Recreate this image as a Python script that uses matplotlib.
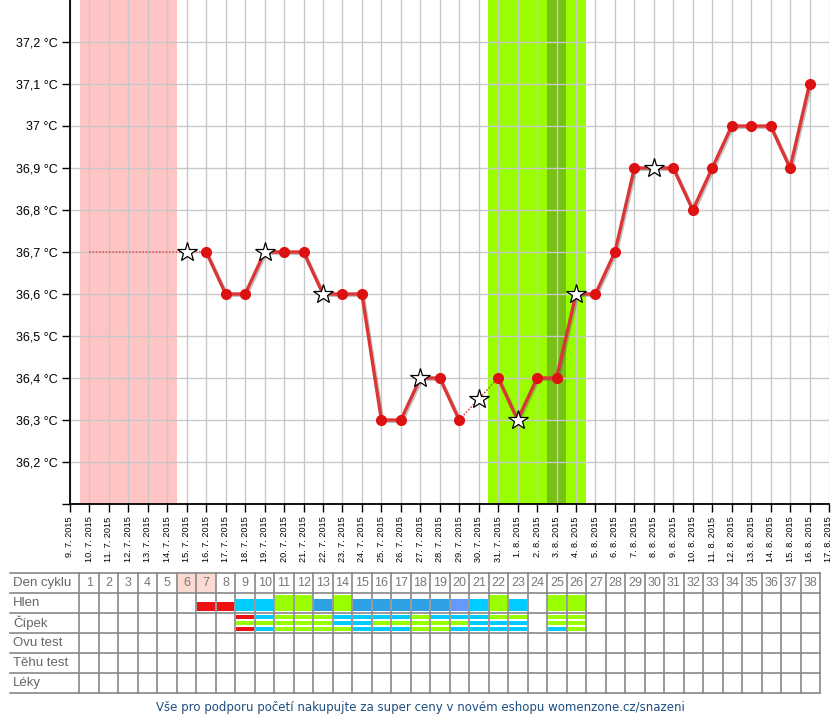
import matplotlib
matplotlib.use("Agg")
import matplotlib.pyplot as plt
import matplotlib.patheffects as pe
from matplotlib.patches import Rectangle

# x axis: one tick per calendar day, index 0 = 9. 7. 2015, index k = cycle day k
date_labels = [
    "9. 7. 2015", "10. 7. 2015", "11. 7. 2015", "12. 7. 2015", "13. 7. 2015",
    "14. 7. 2015", "15. 7. 2015", "16. 7. 2015", "17. 7. 2015", "18. 7. 2015",
    "19. 7. 2015", "20. 7. 2015", "21. 7. 2015", "22. 7. 2015", "23. 7. 2015",
    "24. 7. 2015", "25. 7. 2015", "26. 7. 2015", "27. 7. 2015", "28. 7. 2015",
    "29. 7. 2015", "30. 7. 2015", "31. 7. 2015", "1. 8. 2015", "2. 8. 2015",
    "3. 8. 2015", "4. 8. 2015", "5. 8. 2015", "6. 8. 2015", "7. 8. 2015",
    "8. 8. 2015", "9. 8. 2015", "10. 8. 2015", "11. 8. 2015", "12. 8. 2015",
    "13. 8. 2015", "14. 8. 2015", "15. 8. 2015", "16. 8. 2015", "17. 8. 2015",
]

y_ticks = [36.1, 36.2, 36.3, 36.4, 36.5, 36.6, 36.7, 36.8, 36.9, 37.0, 37.1, 37.2]
y_labels = ["", "36,2 °C", "36,3 °C", "36,4 °C", "36,5 °C", "36,6 °C", "36,7 °C",
            "36,8 °C", "36,9 °C", "37 °C", "37,1 °C", "37,2 °C"]

# temperatures per cycle day
cycle_days = list(range(6, 39))
temps = [36.7, 36.7, 36.6, 36.6, 36.7, 36.7, 36.7, 36.6, 36.6, 36.6, 36.3,
         36.3, 36.4, 36.4, 36.3, 36.35, 36.4, 36.3, 36.4, 36.4, 36.6, 36.6,
         36.7, 36.9, 36.9, 36.9, 36.8, 36.9, 37.0, 37.0, 37.0, 36.9, 37.1]
estimated_days = [6, 21]
star_days = [6, 10, 13, 18, 21, 23, 26, 30]
first_day = 1

period_days = [1, 2, 3, 4, 5]
fertile_days = [22, 23, 24, 25, 26]
ovulation_days = [25]

# table
n_days = 38
pink_header_days = [6, 7]
row_names = ["Den cyklu", "Hlen", "Čípek", "Ovu test", "Těhu test", "Léky"]
hlen_days = [7, 8, 9, 10, 11, 12, 13, 14, 15, 16, 17, 18, 19, 20, 21, 22, 23, 25, 26]
hlen_types = ["R", "R", "C", "C", "G", "G", "B", "G", "B", "B", "B", "B", "B",
              "P", "C", "G", "C", "G", "G"]
cipek_days = [9, 10, 11, 12, 13, 14, 15, 16, 17, 18, 19, 20, 21, 22, 23, 25, 26]
cipek_types = ["RGR", "CGC", "GGG", "GGG", "GGG", "CCG", "CCC", "CGC", "CGC",
               "GGG", "CGG", "CGC", "CCC", "GCC", "GCC", "GGC", "GGG"]
footer = "Vše pro podporu početí nakupujte za super ceny v novém eshopu womenzone.cz/snazeni"

colors = {"R": "#EE1111", "C": "#00CCFF", "B": "#2FA0E4", "P": "#6699FF", "G": "#99FF00"}
heights = {"R": 0.45, "C": 0.6, "B": 0.6, "P": 0.6, "G": 0.8}

plt.rcParams["font.family"] = ["Liberation Sans", "DejaVu Sans"]

fig = plt.figure(figsize=(8.4, 7.2), dpi=100)
ax = fig.add_axes([70 / 840, 216 / 720, 759 / 840, 504 / 720])
ax.set_xlim(0, len(date_labels) - 1)
ax.set_ylim(36.1, 37.3)

for d in period_days:
    ax.axvspan(d - 0.5, d + 0.5, color="#FFC4C4", lw=0, zorder=0.2)
for d in fertile_days:
    ax.axvspan(d - 0.5, d + 0.5, color="#99FF00", lw=0, zorder=0.2)
for d in ovulation_days:
    ax.axvspan(d - 0.5, d + 0.5, color="#77C014", lw=0, zorder=0.3)

ax.set_axisbelow(True)
ax.grid(True, color="#C8C8C8", lw=1)
ax.set_xticks(range(len(date_labels)))
ax.set_xticklabels(date_labels, rotation=90, fontsize=6.6)
ax.set_yticks(y_ticks)
ax.set_yticklabels(y_labels, fontsize=9)
ax.tick_params(axis="both", length=6, width=1, color="black", pad=3)
for s in ["top", "right"]:
    ax.spines[s].set_visible(False)
for s in ["left", "bottom"]:
    ax.spines[s].set_linewidth(1.3)
    ax.spines[s].set_color("black")

temp_of = dict(zip(cycle_days, temps))

# solid runs between estimated days
runs, cur = [], []
for d in cycle_days:
    if d in estimated_days:
        if cur:
            runs.append(cur)
        cur = []
    else:
        cur.append(d)
if cur:
    runs.append(cur)

shadow = [pe.SimpleLineShadow(offset=(1, -1), shadow_color="#555555", alpha=0.35), pe.Normal()]
for run in runs:
    ax.plot(run, [temp_of[d] for d in run], color="#DA3636", lw=2.4,
            zorder=3, path_effects=shadow)

# dotted joins over estimated days
for d in estimated_days:
    if d == cycle_days[0]:
        xs = [first_day, d, d + 1]
        ys = [temp_of[d], temp_of[d], temp_of[d + 1]]
    else:
        xs = [d - 1, d, d + 1]
        ys = [temp_of[d - 1], temp_of[d], temp_of[d + 1]]
    ax.plot(xs, ys, color="#E85050", lw=1.2, ls=(0, (1, 1)), zorder=2.5)

dot_days = [d for d in cycle_days if d not in star_days and d not in estimated_days]
ax.plot(dot_days, [temp_of[d] for d in dot_days], ls="none", marker="o",
        ms=7, color="#DD1111", zorder=4)
ax.plot(star_days, [temp_of[d] for d in star_days], ls="none", marker="*",
        ms=15, mfc="white", mec="black", mew=0.9, zorder=5)

# table below the chart
tab = fig.add_axes([10 / 840, 27 / 720, 810 / 840, 120 / 720])
left = 0.5 - 69.5 / 19.5
tab.set_xlim(left, n_days + 0.5)
tab.set_ylim(len(row_names), 0)
tab.axis("off")

for d in pink_header_days:
    tab.add_patch(Rectangle((d - 0.5, 0), 1, 1, fc="#FCDAD2", lw=0))

for d, t in zip(hlen_days, hlen_types):
    h = heights[t]
    tab.add_patch(Rectangle((d - 0.45, 1.9 - h), 0.9, h, fc=colors[t], lw=0))

for d, ts in zip(cipek_days, cipek_types):
    for i, t in enumerate(ts):
        tab.add_patch(Rectangle((d - 0.45, 2.1 + 0.3 * i), 0.9, 0.215, fc=colors[t], lw=0))

for r in range(len(row_names) + 1):
    tab.plot([left, n_days + 0.5], [r, r], color="#888888", lw=1.2, clip_on=False)
for c in range(n_days + 1):
    tab.plot([c + 0.5, c + 0.5], [0, len(row_names)], color="#888888", lw=1.2, clip_on=False)

for d in range(1, n_days + 1):
    tab.text(d, 0.5, str(d), ha="center", va="center", fontsize=9, color="#777777")
for r, name in enumerate(row_names):
    tab.text(left + 0.15, r + 0.5, name, ha="left", va="center", fontsize=9.5, color="#666666")

fig.text(0.5, 1 - 708 / 720, footer, ha="center", va="center", fontsize=8.5,
         color="#1C4E80", family="DejaVu Sans")

fig.savefig("out.png", dpi=100)
